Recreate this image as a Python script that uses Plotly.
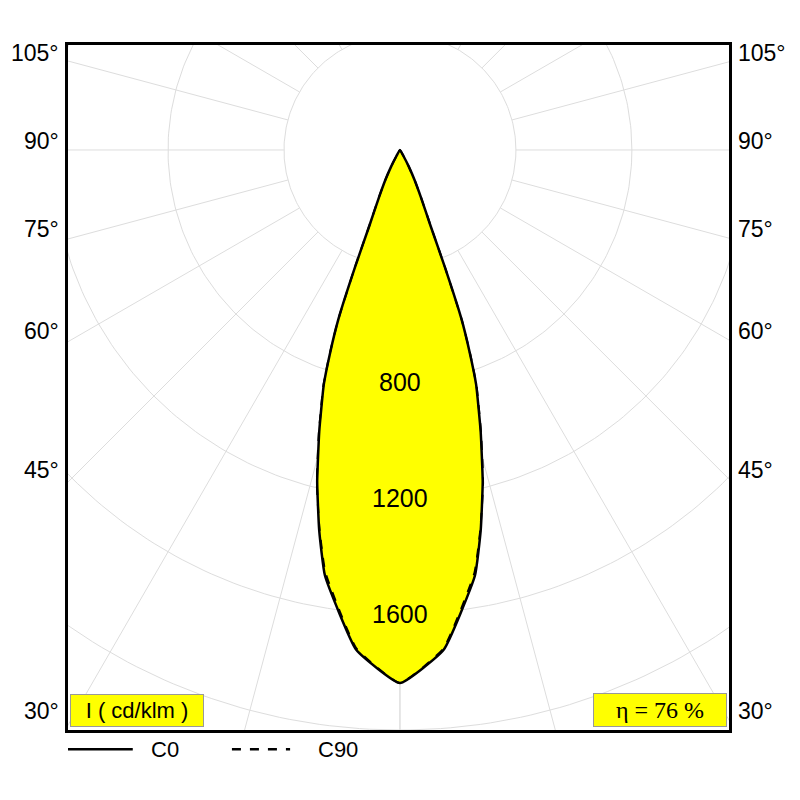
import numpy as np
import plotly.graph_objects as go

# luminous intensity (cd/klm) vs gamma angle (deg from nadir)
gamma = [0, 5, 10, 12, 14, 16, 18, 19, 20, 21, 22, 24, 26, 28, 30, 35]
c0 = [1838, 1730, 1490, 1340, 1180, 1010, 850, 740, 620, 430, 280, 175, 115, 65, 25, 0]
c90 = [1838, 1725, 1480, 1335, 1185, 1015, 855, 745, 625, 435, 285, 178, 115, 65, 25, 0]
grid_radii = [400, 800, 1200, 1600, 2000, 2400, 2800]
radius_labels = [800, 1200, 1600]
angle_labels = [105, 90, 75, 60, 45, 30]
eta = 76


def to_xy(g, r):
    g = np.radians(np.array(g, dtype=float))
    r = np.array(r, dtype=float)
    gg = np.concatenate([-g[::-1], g[1:]])
    rr = np.concatenate([r[::-1], r[1:]])
    return rr * np.sin(gg), -rr * np.cos(gg)


fig = go.Figure()

# grid circles
t = np.linspace(0, 2 * np.pi, 361)
for rad in grid_radii:
    fig.add_trace(go.Scatter(x=rad * np.cos(t), y=rad * np.sin(t), mode='lines',
                             line=dict(color='#dddddd', width=1), hoverinfo='skip', showlegend=False))
# radial lines every 15 deg
for a in range(0, 360, 15):
    ar = np.radians(a)
    fig.add_trace(go.Scatter(x=[400 * np.sin(ar), 4000 * np.sin(ar)], y=[-400 * np.cos(ar), -4000 * np.cos(ar)],
                             mode='lines', line=dict(color='#dddddd', width=1), hoverinfo='skip', showlegend=False))
fig.add_trace(go.Scatter(x=[0, 0], y=[0, -4000], mode='lines',
                         line=dict(color='#dddddd', width=1), hoverinfo='skip', showlegend=False))

x0, y0 = to_xy(gamma, c0)
x9, y9 = to_xy(gamma, c90)
fig.add_trace(go.Scatter(x=x0, y=y0, mode='lines', fill='toself', fillcolor='#ffff00',
                         line=dict(color='black', width=2.5, shape='spline', smoothing=0.4), showlegend=False))
fig.add_trace(go.Scatter(x=x9, y=y9, mode='lines',
                         line=dict(color='black', width=2, dash='dash', shape='spline', smoothing=0.4),
                         showlegend=False))

for v in radius_labels:
    fig.add_annotation(x=0, y=-v, text=str(v), showarrow=False, font=dict(size=25, color='black'))

xr = [-1145, 1135]
for a in angle_labels:
    yv = -xr[1] / np.tan(np.radians(a)) if a != 90 else 0
    for xp, anc in [(-0.01, 'right'), (1.01, 'left')]:
        fig.add_annotation(x=xp, xref='paper', y=yv + 30, text=f'{a}°', showarrow=False,
                           xanchor=anc, font=dict(size=23, color='black'))

fig.add_annotation(x=0.003, y=0.005, xref='paper', yref='paper', xanchor='left', yanchor='bottom',
                   text='I ( cd/klm )', showarrow=False, bgcolor='#ffff00', bordercolor='#999999',
                   borderpad=3, font=dict(size=22, color='black'), width=126)
fig.add_annotation(x=0.997, y=0.005, xref='paper', yref='paper', xanchor='right', yanchor='bottom',
                   text=f'η = {eta} %', showarrow=False, bgcolor='#ffff00', bordercolor='#999999',
                   borderpad=3, font=dict(size=24, color='black', family='Liberation Serif'), width=126)

# legend
ly = -0.028
fig.add_shape(type='line', xref='paper', yref='paper', x0=0, x1=0.098, y0=ly, y1=ly,
              line=dict(color='black', width=2.5))
fig.add_annotation(x=0.122, y=ly, xref='paper', yref='paper', xanchor='left', yanchor='middle',
                   text='C0', showarrow=False, font=dict(size=22, color='black'))
fig.add_shape(type='line', xref='paper', yref='paper', x0=0.248, x1=0.336, y0=ly, y1=ly,
              line=dict(color='black', width=2.5, dash='dash'))
fig.add_annotation(x=0.375, y=ly, xref='paper', yref='paper', xanchor='left', yanchor='middle',
                   text='C90', showarrow=False, font=dict(size=22, color='black'))

fig.update_layout(
    width=800, height=800,
    margin=dict(l=60, r=79, t=37, b=78),
    paper_bgcolor='white', plot_bgcolor='white',
    font=dict(family='Liberation Sans'),
    xaxis=dict(range=xr, showgrid=False, zeroline=False, showticklabels=False, ticks='',
               showline=True, linecolor='black', linewidth=3, mirror=True),
    yaxis=dict(range=[-2000, 362], showgrid=False, zeroline=False, showticklabels=False, ticks='',
               showline=True, linecolor='black', linewidth=3, mirror=True),
)

fig.write_html("out.html")
